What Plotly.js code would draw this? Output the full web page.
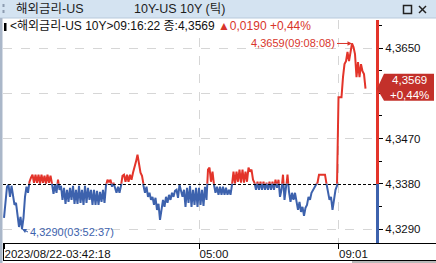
<!DOCTYPE html>
<html><head><meta charset="utf-8">
<script src="https://cdn.plot.ly/plotly-3.0.1.min.js"></script>
<style>html,body{margin:0;padding:0;background:#fff;overflow:hidden}#chart{width:436px;height:263px}</style>
</head><body><div id="chart"></div>
<script>
// ---- data ----
const values = [
4.3312,4.3348,4.3374,4.3378,4.3354,4.3376,4.3354,4.3338,4.3342,4.3318,
4.3294,4.3314,4.3290,4.3312,4.3354,4.3374,4.3362,4.3384,4.3392,4.3398,
4.3382,4.3398,4.3382,4.3398,4.3380,4.3398,4.3382,4.3396,4.3380,4.3398,
4.3382,4.3396,4.3380,4.3360,4.3378,4.3362,4.3388,4.3368,4.3376,4.3348,
4.3372,4.3340,4.3368,4.3344,4.3372,4.3348,4.3376,4.3340,4.3368,4.3340,
4.3376,4.3342,4.3368,4.3338,4.3376,4.3342,4.3372,4.3348,4.3368,4.3338,
4.3368,4.3338,4.3366,4.3338,4.3364,4.3344,4.3368,4.3342,4.3376,4.3388,
4.3384,4.3388,4.3374,4.3382,4.3372,4.3362,4.3374,4.3362,4.3376,4.3396,
4.3398,4.3384,4.3398,4.3384,4.3398,4.3388,4.3402,4.3412,4.3424,4.3438,
4.3418,4.3402,4.3396,4.3376,4.3362,4.3374,4.3354,4.3362,4.3348,4.3354,
4.3338,4.3352,4.3328,4.3340,4.3308,4.3328,4.3348,4.3334,4.3354,4.3342,
4.3358,4.3348,4.3362,4.3354,4.3366,4.3368,4.3352,4.3378,4.3364,4.3354,
4.3368,4.3334,4.3372,4.3342,4.3376,4.3334,4.3368,4.3338,4.3372,4.3334,
4.3372,4.3338,4.3368,4.3336,4.3374,4.3348,4.3408,4.3412,4.3384,4.3404,
4.3378,4.3362,4.3374,4.3358,4.3374,4.3358,4.3374,4.3358,4.3372,4.3358,
4.3368,4.3358,4.3378,4.3404,4.3380,4.3404,4.3384,4.3408,4.3382,4.3408,
4.3382,4.3404,4.3384,4.3412,4.3404,4.3408,4.3388,4.3382,4.3368,4.3384,
4.3368,4.3384,4.3368,4.3384,4.3368,4.3382,4.3368,4.3384,4.3368,4.3384,
4.3368,4.3388,4.3372,4.3388,4.3354,4.3368,4.3398,4.3348,4.3368,4.3398,
4.3364,4.3344,4.3362,4.3348,4.3362,4.3348,4.3328,4.3344,4.3324,4.3334,
4.3316,4.3332,4.3338,4.3354,4.3348,4.3362,4.3368,4.3374,4.3378,4.3382,
4.3398,4.3398,4.3398,4.3398,4.3398,4.3380,4.3362,4.3348,4.3354,4.3328,
4.3348,4.3368,4.3376,4.3552,4.3552,4.3552,4.3592,4.3618,4.3624,4.3642,
4.3624,4.3642,4.3659,4.3652,4.3638,4.3592,4.3622,4.3592,4.3618,4.3604,
4.3598,4.3569
];
const prevClose = 4.3380;
const timeTickIndex = [0, 130, 223];
const timeTickLabels = ['2023/08/22-03:42:18', '05:00', '09:01'];
const peakTime = '09:08:08';
const lowTime = '03:52:37';
const priceTicksTop = [4.3470, 4.3560, 4.3650];
const priceTicksTopShown = [true, false, true];
const priceTicksBottom = [4.3290, 4.3380];
const windowTitle = '해외금리-US';
const windowSubtitle = '10Y-US 10Y (틱)';
const headerInfo = '&lt;해외금리-US 10Y&gt;09:16:22 종:4,3569';
const headerChange = '▲0,0190 +0,44%';
const lastChangePct = '+0,44%';

// ---- styling / geometry ----
const RED = '#e3342a', BLUE = '#3d62ad', TXTRED = '#d8352b';
const FONT = '"Liberation Sans", "Noto Sans CJK KR", sans-serif';
const L = 3, R = 376, T = 20, B = 243;          // plot area in px
const pxPerUnit = 5027.8;
const yTop = 4.3650 + (48 - T) / pxPerUnit;
const yBot = 4.3290 - (B - 229) / pxPerUnit;
const split = (prevClose - yBot) / (yTop - yBot);
const xMin = -0.67, xMax = 248;
const PX = px => (px - L) / (R - L);
const PY = py => (B - py) / (B - T);
const fmt = v => v.toFixed(4).replace('.', ',');

const xs = values.map((_, i) => i);
const traces = [
  {x: xs, y: values, xaxis: 'x', yaxis: 'y', type: 'scatter', mode: 'lines',
   line: {color: RED, width: 2}, hoverinfo: 'skip'},
  {x: xs, y: values, xaxis: 'x', yaxis: 'y2', type: 'scatter', mode: 'lines',
   line: {color: BLUE, width: 2}, hoverinfo: 'skip'}
];

const peakVal = Math.max(...values), peakIdx = values.indexOf(peakVal);
const lowVal = Math.min(...values), lowIdx = values.indexOf(lowVal);
const last = values[values.length - 1];
const u = px => px / pxPerUnit;
const closePy = B - split * (B - T);

const gridCommon = {showgrid: true, griddash: 'dash', gridcolor: '#d6d6d6', gridwidth: 1, zeroline: false};

const layout = {
  width: 436, height: 263,
  margin: {l: L, r: 436 - R, t: T, b: 263 - B, pad: 0},
  paper_bgcolor: '#ffffff', plot_bgcolor: 'rgba(0,0,0,0)',
  separators: ',.', showlegend: false, hovermode: false,
  font: {family: FONT, size: 11, color: '#111'},
  xaxis: Object.assign({}, gridCommon, {
    domain: [0, 1], range: [xMin, xMax], anchor: 'y2',
    tickmode: 'array', tickvals: timeTickIndex, ticktext: timeTickLabels,
    ticks: 'outside', ticklen: 5, tickcolor: '#000', tickwidth: 1,
    ticklabelposition: 'outside right', tickfont: {size: 11.5, color: '#111'},
    showline: false, fixedrange: true
  }),
  yaxis: Object.assign({}, gridCommon, {
    domain: [split, 1], range: [prevClose, yTop], anchor: 'x', side: 'right',
    tickmode: 'array', tickvals: priceTicksTop,
    ticktext: priceTicksTop.map((v, i) => priceTicksTopShown[i] ? fmt(v) : ''),
    ticks: 'outside', ticklen: 4, tickcolor: '#000',
    showline: true, linecolor: RED, linewidth: 3,
    tickfont: {size: 11.5, color: '#111'},
    minor: {tick0: 4.3290, dtick: 0.0045, ticklen: 3, tickcolor: '#000', ticks: 'outside', showgrid: false},
    fixedrange: true
  }),
  yaxis2: Object.assign({}, gridCommon, {
    domain: [0, split], range: [yBot, prevClose], anchor: 'x', side: 'right',
    tickmode: 'array', tickvals: priceTicksBottom, ticktext: priceTicksBottom.map(fmt),
    ticks: 'outside', ticklen: 4, tickcolor: '#000',
    showline: true, linecolor: BLUE, linewidth: 3,
    tickfont: {size: 11.5, color: '#111'},
    minor: {tick0: 4.3290, dtick: 0.0045, ticklen: 3, tickcolor: '#000', ticks: 'outside', showgrid: false},
    fixedrange: true
  }),
  shapes: [
    // window title bar
    {type: 'rect', xref: 'paper', yref: 'paper', x0: PX(0), x1: PX(436), y0: PY(18), y1: PY(0),
     fillcolor: '#d4e3f1', line: {width: 0}, layer: 'below'},
    {type: 'line', xref: 'paper', yref: 'paper', x0: PX(0), x1: PX(436), y0: PY(18), y1: PY(18),
     line: {color: '#b8c9db', width: 1}},
    // grip
    {type: 'line', xref: 'paper', yref: 'paper', x0: PX(3.5), x1: PX(3.5), y0: PY(4), y1: PY(16),
     line: {color: '#8c9bb0', width: 2, dash: 'dot'}},
    // window buttons
    {type: 'rect', xref: 'paper', yref: 'paper', x0: PX(403.5), x1: PX(411.5), y0: PY(13.5), y1: PY(5.5),
     line: {color: '#222', width: 1.5}},
    {type: 'line', xref: 'paper', yref: 'paper', x0: PX(419), x1: PX(426), y0: PY(6), y1: PY(13),
     line: {color: '#222', width: 1.5}},
    {type: 'line', xref: 'paper', yref: 'paper', x0: PX(419), x1: PX(426), y0: PY(13), y1: PY(6),
     line: {color: '#222', width: 1.5}},
    // left window border
    {type: 'rect', xref: 'paper', yref: 'paper', x0: PX(0), x1: PX(2.5), y0: PY(263), y1: PY(18),
     fillcolor: '#aab7c9', line: {width: 0}},
    // header marker
    {type: 'rect', xref: 'paper', yref: 'paper', x0: PX(4), x1: PX(6.5), y0: PY(31), y1: PY(23),
     fillcolor: '#000', line: {width: 0}},
    // previous close dashed line (pixel-snapped)
    {type: 'line', xref: 'paper', yref: 'paper', x0: 0, x1: 1,
     y0: PY(Math.round(closePy) + 0.5), y1: PY(Math.round(closePy) + 0.5),
     line: {color: '#000', width: 1, dash: '3px,2px'}, layer: 'above'},
    // x-axis box
    {type: 'line', xref: 'paper', yref: 'paper', x0: PX(3), x1: PX(436), y0: PY(243.5), y1: PY(243.5),
     line: {color: '#000', width: 1}},
    {type: 'line', xref: 'paper', yref: 'paper', x0: PX(3), x1: PX(436), y0: PY(260.5), y1: PY(260.5),
     line: {color: '#000', width: 1}},
    {type: 'line', xref: 'paper', yref: 'paper', x0: PX(3.5), x1: PX(3.5), y0: PY(243), y1: PY(261),
     line: {color: '#000', width: 1}},
    {type: 'rect', xref: 'paper', yref: 'paper', x0: PX(352), x1: PX(436), y0: PY(263), y1: PY(261),
     fillcolor: '#b9b9b9', line: {width: 0}},
    // current price tag
    {type: 'path', xref: 'paper', yref: 'y',
     path: `M ${PX(377)} ${last} L ${PX(384)} ${last + u(15)} L ${PX(434)} ${last + u(15)} L ${PX(434)} ${last - u(12)} L ${PX(384)} ${last - u(12)} Z`,
     fillcolor: '#c3302a', line: {width: 0}, layer: 'above'}
  ],
  annotations: [
    {xref: 'paper', yref: 'paper', x: PX(14), y: PY(9), xanchor: 'left', yanchor: 'middle',
     text: windowTitle, showarrow: false, font: {size: 12.5, color: '#1d1d1d'}},
    {xref: 'paper', yref: 'paper', x: PX(132), y: PY(9), xanchor: 'left', yanchor: 'middle',
     text: windowSubtitle, showarrow: false, font: {size: 12.5, color: '#1d1d1d'}},
    {xref: 'paper', yref: 'paper', x: PX(8), y: PY(26.5), xanchor: 'left', yanchor: 'middle',
     text: headerInfo + ' <span style="color:' + TXTRED + '">' + headerChange + '</span>',
     showarrow: false, font: {size: 12, color: '#111'}},
    {xref: 'x', yref: 'y', x: peakIdx, y: peakVal, xanchor: 'right', yanchor: 'middle',
     text: fmt(peakVal) + '(' + peakTime + ')', showarrow: true, ax: -15, ay: 0,
     arrowhead: 2, arrowsize: 0.9, arrowwidth: 1, arrowcolor: TXTRED,
     font: {size: 11, color: TXTRED}},
    {xref: 'x', yref: 'y2', x: lowIdx, y: lowVal, xanchor: 'left', yanchor: 'middle',
     text: fmt(lowVal) + '(' + lowTime + ')', showarrow: true, ax: 6, ay: 3,
     arrowhead: 2, arrowsize: 0.9, arrowwidth: 1, arrowcolor: BLUE,
     font: {size: 11, color: BLUE}},
    {xref: 'paper', yref: 'y', x: PX(409), y: last, xanchor: 'center', yanchor: 'middle', yshift: 1.5,
     text: fmt(last) + '<br>' + lastChangePct, showarrow: false, align: 'center',
     font: {size: 11.5, color: '#ffffff'}}
  ]
};

Plotly.newPlot('chart', traces, layout, {staticPlot: true, displayModeBar: false});
</script>
</body></html>
